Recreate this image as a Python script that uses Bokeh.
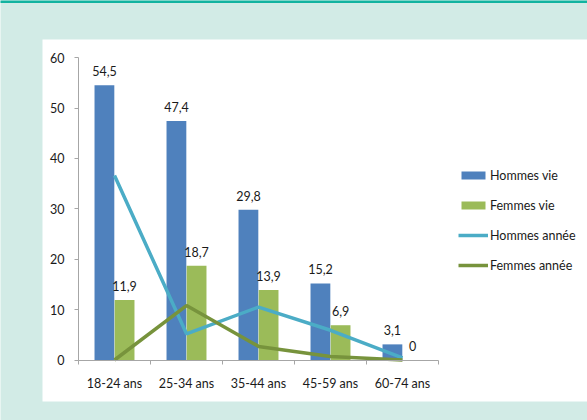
from bokeh.plotting import figure
from bokeh.models import (ColumnDataSource, FixedTicker, Range1d,
                          BoxAnnotation, Legend, LegendItem)
from bokeh.core.properties import value
from bokeh.embed import file_html
from bokeh.resources import INLINE

categories = ["18-24 ans", "25-34 ans", "35-44 ans", "45-59 ans", "60-74 ans"]
hommes_vie = [54.5, 47.4, 29.8, 15.2, 3.1]
femmes_vie = [11.9, 18.7, 13.9, 6.9, 0.0]
hommes_annee = [36.6, 5.2, 10.5, 5.9, 0.4]
femmes_annee = [0.0, 10.8, 2.7, 0.7, 0.0]
y_ticks = [0, 10, 20, 30, 40, 50, 60]

FONT = "Lato"
BLUE = "#4f81bd"
GREEN = "#9bbb59"
CYAN = "#4bacc6"
OLIVE = "#77933c"
MINT = "#d2ebe6"
TEAL = "#12b3a0"
AXIS = "#a6a6a6"
TXT = "#1a1a1a"

def fmt(v):
    return ("%g" % v).replace(".", ",")

idx = list(range(len(categories)))
centers = [i + 0.5 for i in idx]
bounds_x = [float(i) for i in range(len(categories) + 1)]
src = ColumnDataSource(dict(
    xc=centers,
    xh=[c - 0.14 for c in centers],
    xf=[c + 0.14 for c in centers],
    hv=hommes_vie, fv=femmes_vie, ha=hommes_annee, fa=femmes_annee,
    hl=[fmt(v) for v in hommes_vie], fl=[fmt(v) for v in femmes_vie],
))

p = figure(width=587, height=420, output_backend="svg", toolbar_location=None,
           x_range=Range1d(-78 / 72, (587 - 78) / 72),
           y_range=Range1d((359.5 - 420) / 5.04, 359.5 / 5.04),
           min_border=0, min_border_left=0, min_border_right=0,
           min_border_top=0, min_border_bottom=0)
p.background_fill_color = MINT
p.border_fill_color = MINT
p.outline_line_color = None
p.xgrid.visible = False
p.ygrid.visible = False

# white panel and top teal strip
panel = BoxAnnotation(left=(42 - 78) / 72, right=10, top=(359.5 - 39) / 5.04,
                      bottom=(359.5 - 401) / 5.04, fill_color="white", fill_alpha=1,
                      line_alpha=0, level="underlay")
strip = BoxAnnotation(left=-5, right=10, top=100, bottom=(359.5 - 2.5) / 5.04,
                      fill_color=TEAL, fill_alpha=1, line_alpha=0, level="underlay")
p.add_layout(panel)
p.add_layout(strip)

r_hv = p.vbar(x="xh", top="hv", width=0.275, source=src, fill_color=BLUE,
              line_color=None)
r_fv = p.vbar(x="xf", top="fv", width=0.275, source=src, fill_color=GREEN,
              line_color=None)
r_ha = p.line(x="xc", y="ha", source=src, line_color=CYAN, line_width=3.5)
r_fa = p.line(x="xc", y="fa", source=src, line_color=OLIVE, line_width=3.5)

p.text(x="xh", y="hv", text="hl", source=src, text_align="center",
       text_baseline="bottom", y_offset=-9, text_font=value(FONT),
       text_font_size="12.5px", text_color=TXT)
p.text(x="xf", y="fv", text="fl", source=src, text_align="center",
       text_baseline="bottom", y_offset=-9, text_font=value(FONT),
       text_font_size="12.5px", text_color=TXT)

# y axis
ya = p.yaxis[0]
ya.fixed_location = 0
ya.bounds = (0, 60)
ya.ticker = FixedTicker(ticks=y_ticks)
ya.minor_tick_line_color = None
ya.major_tick_in = 0
ya.major_tick_out = 4
ya.axis_line_color = AXIS
ya.major_tick_line_color = AXIS
ya.major_label_standoff = 10
ya.major_label_text_font = FONT
ya.major_label_text_font_size = "12.5px"
ya.major_label_text_color = TXT

# x axis: category labels at centres, tick marks (minor) at boundaries
xa = p.xaxis[0]
xa.fixed_location = 0
xa.bounds = (0, 5)
xa.ticker = FixedTicker(ticks=centers, minor_ticks=bounds_x)
xa.major_label_overrides = {c: lab for c, lab in zip(centers, categories)}
xa.major_tick_line_color = None
xa.major_tick_in = 0
xa.major_tick_out = 0
xa.minor_tick_in = 0
xa.minor_tick_out = 4
xa.minor_tick_line_color = AXIS
xa.axis_line_color = AXIS
xa.major_label_standoff = 12
xa.major_label_text_font = FONT
xa.major_label_text_font_size = "12.5px"
xa.major_label_text_color = TXT

legend = Legend(items=[
    LegendItem(label="Hommes vie", renderers=[r_hv]),
    LegendItem(label="Femmes vie", renderers=[r_fv]),
    LegendItem(label="Hommes année", renderers=[r_ha]),
    LegendItem(label="Femmes année", renderers=[r_fa]),
], location=(458, 145), orientation="vertical")
legend.glyph_width = 30
legend.glyph_height = 10
legend.label_height = 20
legend.spacing = 10
legend.padding = 0
legend.margin = 0
legend.label_standoff = 2
legend.border_line_color = None
legend.background_fill_alpha = 0
legend.label_text_font = FONT
legend.label_text_font_size = "12.5px"
legend.label_text_color = TXT
p.add_layout(legend, "center")

open("out.html", "w").write(file_html(p, INLINE))
